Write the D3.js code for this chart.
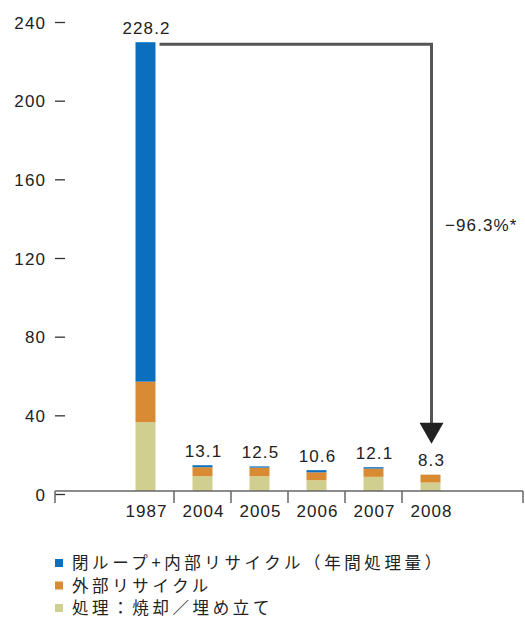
<!DOCTYPE html>
<html><head><meta charset="utf-8">
<script src="https://cdn.jsdelivr.net/npm/d3@7"></script>
<style>
body{margin:0;background:#fff;}
text{font-family:"Liberation Sans",Arial,sans-serif;fill:#222;}
.jp{font-family:"Noto Sans CJK JP",sans-serif;}
</style></head>
<body><svg id="c" width="525" height="619"></svg>
<script>
const years = ["1987","2004","2005","2006","2007","2008"];
const disposal = [35.0, 7.5, 7.5, 5.5, 7.2, 4.3];
const externalRecycle = [20.6, 4.6, 4.4, 4.0, 4.2, 4.0];
const closedLoop = [172.6, 1.0, 0.6, 1.1, 0.7, 0.0];
const totals = [228.2, 13.1, 12.5, 10.6, 12.1, 8.3];
const yTicks = [0, 40, 80, 120, 160, 200, 240];
const seriesNames = ["閉ループ+内部リサイクル（年間処理量）", "外部リサイクル", "処理：焼却／埋め立て"];
const changeLabel = "−96.3%*";

const colors = {closed:"#0a6fbf", ext:"#d98b33", disp:"#d0cf8f"};
const svg = d3.select("#c");
const y = d3.scaleLinear().domain([0,240]).range([491,19]);
const x = d3.scaleBand().domain(years).range([117,459]).padding(0);
const barW = 20;
const FS = 17, LS = 1.1;

// y ticks
const yt = svg.append("g");
yTicks.forEach(t=>{
  yt.append("text").attr("x",46).attr("y",y(t)+9.5).attr("text-anchor","end")
    .attr("font-size",FS).attr("letter-spacing",LS).text(t);
  yt.append("line").attr("x1",55).attr("x2",65).attr("y1",y(t)+3.5).attr("y2",y(t)+3.5)
    .attr("stroke","#333").attr("stroke-width",1.3);
});

// stacked bars
const rows = years.map((yr,i)=>({year:yr, disp:disposal[i], ext:externalRecycle[i], closed:closedLoop[i]}));
const stack = d3.stack().keys(["disp","ext","closed"])(rows);
svg.append("g").selectAll("g").data(stack).join("g")
  .attr("fill",d=>colors[d.key])
  .selectAll("rect").data(d=>d).join("rect")
  .attr("x",d=>x(d.data.year)+x.bandwidth()/2-barW/2)
  .attr("width",barW)
  .attr("y",d=>y(d[1]))
  .attr("height",d=>Math.max(0,y(d[0])-y(d[1])));

// value labels
svg.append("g").selectAll("text").data(years).join("text")
  .attr("x",d=>x(d)+x.bandwidth()/2+1)
  .attr("y",(d,i)=>y(totals[i])-8.5)
  .attr("text-anchor","middle").attr("font-size",FS)
  .attr("letter-spacing",LS)
  .text((d,i)=>totals[i].toFixed(1));

// x axis
const axisY = y(0);
svg.append("line").attr("x1",55).attr("x2",523).attr("y1",axisY).attr("y2",axisY)
  .attr("stroke","#666").attr("stroke-width",1.5);
const seps = [55, ...years.slice(1).map(d=>x(d)), 523];
svg.append("g").selectAll("line").data(seps).join("line")
  .attr("x1",d=>d).attr("x2",d=>d).attr("y1",axisY).attr("y2",axisY+12)
  .attr("stroke","#666").attr("stroke-width",1.5);
svg.append("g").selectAll("text").data(years).join("text")
  .attr("x",d=>x(d)+x.bandwidth()/2+1).attr("y",517)
  .attr("text-anchor","middle").attr("font-size",FS).attr("letter-spacing",LS)
  .text(d=>d);

// arrow
const x0 = x("1987")+x.bandwidth()/2+barW/2+4;
const x1 = x("2008")+x.bandwidth()/2+1;
const yTop = y(totals[0])+2;
const tipY = y(totals[5])-31;
svg.append("path")
  .attr("d",`M${x0},${yTop}H${x1}V${tipY-18}`)
  .attr("fill","none").attr("stroke","#555").attr("stroke-width",3);
svg.append("path")
  .attr("d",`M${x1-12},${tipY-21}L${x1+12},${tipY-21}L${x1},${tipY}Z`)
  .attr("fill","#222");
svg.append("text").attr("x",445).attr("y",231).attr("font-size",FS)
  .attr("letter-spacing",LS).text(changeLabel);

// legend
const lg = svg.append("g");
const legColors = [colors.closed, colors.ext, colors.disp];
seriesNames.forEach((n,i)=>{
  const cy = 563 + i*22.5;
  lg.append("rect").attr("x",55).attr("y",cy-4).attr("width",8).attr("height",8).attr("fill",legColors[i]);
  lg.append("text").attr("class","jp").attr("x",72).attr("y",cy+6).attr("font-size",16.5)
    .attr("letter-spacing",3.6).text(n);
});
</script></body></html>
